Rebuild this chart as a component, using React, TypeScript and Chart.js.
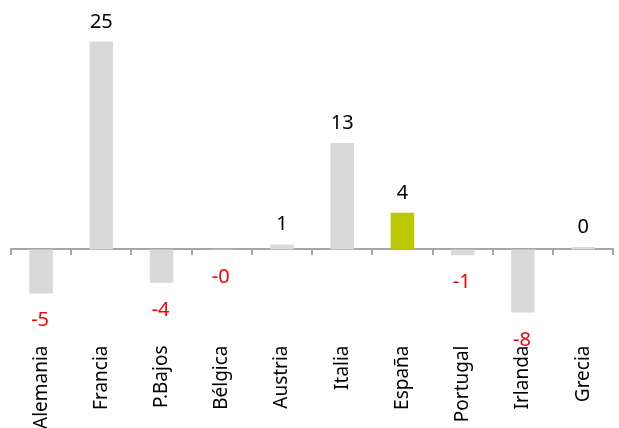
import React, { useEffect, useRef } from "react";
import { Chart, registerables } from "chart.js";

Chart.register(...registerables);

const categories = ["Alemania", "Francia", "P.Bajos", "Bélgica", "Austria", "Italia", "España", "Portugal", "Irlanda", "Grecia"];
const values = [-5.3, 25.0, -4.0, -0.1, 0.6, 12.8, 4.4, -0.7, -7.6, 0.3];
const highlight = "España";

const GREY = "#d9d9d9";
const GREEN = "#bec800";
const AXIS = "#a6a6a6";
const FONT = "Noto Sans";

const valueLabels = {
  id: "valueLabels",
  afterDraw(chart: any) {
    const ctx = chart.ctx;
    const meta = chart.getDatasetMeta(0);
    ctx.save();
    ctx.font = `20px "${FONT}"`;
    ctx.textAlign = "center";
    ctx.textBaseline = "alphabetic";
    meta.data.forEach((bar: any, i: number) => {
      const v = values[i];
      const txt = v.toFixed(0);
      if (v >= 0) {
        ctx.fillStyle = "#000000";
        ctx.fillText(txt, bar.x, bar.y - 14);
      } else {
        ctx.fillStyle = "#ff0000";
        ctx.fillText(txt, bar.x - 1, bar.y + 33);
      }
    });
    ctx.restore();
  },
};

export default function App() {
  const ref = useRef<HTMLCanvasElement | null>(null);

  useEffect(() => {
    if (!ref.current) return;
    const chart = new Chart(ref.current, {
      type: "bar",
      data: {
        labels: categories,
        datasets: [
          {
            data: values,
            backgroundColor: categories.map((c) => (c === highlight ? GREEN : GREY)),
            borderWidth: 0,
            categoryPercentage: 1,
            barPercentage: 0.39,
            xAxisID: "x",
            yAxisID: "y",
          },
        ],
      },
      options: {
        animation: false,
        responsive: true,
        maintainAspectRatio: false,
        layout: { padding: { left: 11, right: 1, top: 0, bottom: 0 } },
        plugins: { legend: { display: false }, tooltip: { enabled: false } },
        scales: {
          x: {
            type: "category",
            position: "bottom",
            offset: true,
            grid: { display: false, drawTicks: false },
            border: { display: false },
            ticks: {
              autoSkip: false,
              minRotation: 90,
              maxRotation: 90,
              padding: 13,
              color: "#000000",
              font: { family: FONT, size: 19 },
            },
            afterFit: (s: any) => {
              s.height = 95.5;
            },
          },
          x2: {
            type: "category",
            labels: categories,
            position: { y: 0 },
            offset: true,
            z: 1,
            grid: {
              display: true,
              drawOnChartArea: false,
              drawTicks: true,
              tickLength: 5,
              offset: true,
              color: AXIS,
              lineWidth: 2,
            },
            border: { display: true, color: AXIS, width: 2 },
            ticks: { display: false },
          },
          y: { min: -10, max: 30, display: false },
        },
      } as any,
      plugins: [valueLabels],
    });
    return () => chart.destroy();
  }, []);

  return (
    <div style={{ position: "fixed", left: 0, top: 0, width: 619, height: 428, background: "#fff" }}>
      <canvas ref={ref} />
    </div>
  );
}
